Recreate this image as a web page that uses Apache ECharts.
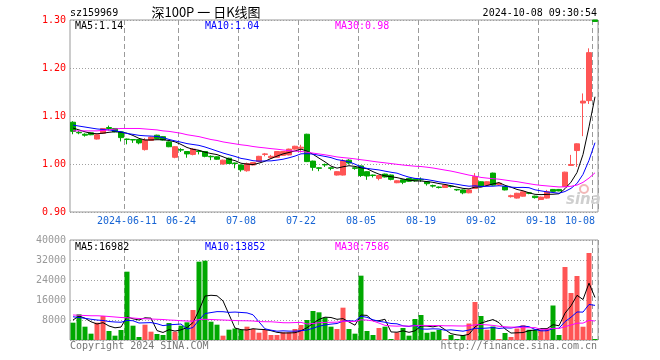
<!DOCTYPE html>
<html><head><meta charset="utf-8">
<script src="https://cdn.jsdelivr.net/npm/echarts@6/dist/echarts.min.js"></script>
<style>html,body{margin:0;padding:0;background:#fff}#c{width:660px;height:360px}</style>
</head><body><div id="c"></div>
<script>
const dates = [
'2024-05-28','2024-05-29','2024-05-30','2024-05-31',
'2024-06-03','2024-06-04','2024-06-05','2024-06-06','2024-06-07',
'2024-06-11','2024-06-12','2024-06-13','2024-06-14',
'2024-06-17','2024-06-18','2024-06-19','2024-06-20','2024-06-21',
'2024-06-24','2024-06-25','2024-06-26','2024-06-27','2024-06-28',
'2024-07-01','2024-07-02','2024-07-03','2024-07-04','2024-07-05',
'2024-07-08','2024-07-09','2024-07-10','2024-07-11','2024-07-12',
'2024-07-15','2024-07-16','2024-07-17','2024-07-18','2024-07-19',
'2024-07-22','2024-07-23','2024-07-24','2024-07-25','2024-07-26',
'2024-07-29','2024-07-30','2024-07-31','2024-08-01','2024-08-02',
'2024-08-05','2024-08-06','2024-08-07','2024-08-08','2024-08-09',
'2024-08-12','2024-08-13','2024-08-14','2024-08-15','2024-08-16',
'2024-08-19','2024-08-20','2024-08-21','2024-08-22','2024-08-23',
'2024-08-26','2024-08-27','2024-08-28','2024-08-29','2024-08-30',
'2024-09-02','2024-09-03','2024-09-04','2024-09-05','2024-09-06',
'2024-09-09','2024-09-10','2024-09-11','2024-09-12','2024-09-13',
'2024-09-18','2024-09-19','2024-09-20',
'2024-09-23','2024-09-24','2024-09-25','2024-09-26','2024-09-27',
'2024-09-30','2024-10-08'];

const openP = [1.087,1.066,1.062,1.065,1.052,1.064,1.076,1.074,1.067,1.052,
1.051,1.051,1.030,1.049,1.060,1.057,1.046,1.014,1.030,1.026,
1.020,1.027,1.026,1.016,1.015,1.000,1.012,1.002,0.998,0.986,
0.998,1.005,1.020,1.013,1.014,1.018,1.019,1.031,1.033,1.062,
1.006,0.992,0.999,0.992,0.977,0.977,1.008,0.992,0.996,0.984,
0.977,0.970,0.979,0.977,0.961,0.967,0.970,0.969,0.968,0.963,
0.955,0.952,0.951,0.954,0.947,0.946,0.940,0.949,0.963,0.956,
0.981,0.957,0.953,0.932,0.929,0.933,0.940,0.933,0.926,0.929,
0.947,0.947,0.953,0.997,1.028,1.127,1.132,1.355];
const highP = [1.089,1.069,1.064,1.066,1.062,1.075,1.080,1.075,1.068,1.053,
1.052,1.052,1.054,1.057,1.061,1.058,1.047,1.037,1.033,1.027,
1.033,1.029,1.027,1.018,1.016,1.009,1.013,1.003,0.999,1.003,
1.004,1.017,1.023,1.019,1.027,1.027,1.032,1.038,1.040,1.063,
1.007,0.993,1.001,0.993,0.985,1.010,1.010,0.993,0.997,0.985,
0.978,0.977,0.980,0.978,0.966,0.968,0.971,0.970,0.972,0.964,
0.957,0.953,0.957,0.956,0.948,0.947,0.947,0.981,0.964,0.964,
0.982,0.962,0.954,0.936,0.940,0.943,0.941,0.934,0.932,0.946,
0.948,0.948,0.984,1.019,1.043,1.147,1.241,1.355];
const lowP = [1.062,1.062,1.057,1.060,1.051,1.063,1.070,1.066,1.047,1.041,
1.044,1.041,1.028,1.048,1.052,1.049,1.035,1.012,1.025,1.013,
1.018,1.020,1.014,1.008,1.009,0.999,1.000,0.991,0.984,0.984,
0.997,1.004,1.016,1.012,1.013,1.017,1.018,1.030,1.024,1.004,
0.986,0.985,0.994,0.987,0.976,0.976,0.999,0.988,0.973,0.967,
0.972,0.966,0.972,0.966,0.960,0.958,0.963,0.963,0.963,0.955,
0.951,0.949,0.950,0.951,0.944,0.937,0.939,0.948,0.952,0.955,
0.955,0.955,0.945,0.930,0.928,0.932,0.937,0.928,0.925,0.928,
0.942,0.943,0.952,0.996,0.994,1.058,1.125,1.297];
const closeP = [1.068,1.065,1.060,1.061,1.061,1.074,1.074,1.067,1.055,1.051,
1.050,1.044,1.050,1.056,1.053,1.050,1.036,1.036,1.029,1.021,
1.031,1.026,1.016,1.015,1.010,1.008,1.001,1.001,0.988,1.001,
1.003,1.016,1.021,1.016,1.026,1.026,1.031,1.037,1.035,1.005,
0.993,0.991,0.998,0.991,0.984,1.007,1.002,0.991,0.976,0.975,
0.976,0.976,0.973,0.968,0.965,0.962,0.964,0.965,0.967,0.959,
0.954,0.951,0.956,0.953,0.946,0.940,0.946,0.974,0.953,0.963,
0.956,0.960,0.946,0.934,0.939,0.942,0.939,0.930,0.931,0.942,
0.943,0.944,0.983,0.999,1.042,1.131,1.232,1.297];
const volume = [6930,10270,5330,2530,6930,9600,3600,1730,4000,27330,
5730,1200,6130,3330,2400,2000,6800,3330,5730,7070,
12000,31330,31730,7330,6130,1730,4130,4600,4130,5330,
4400,2930,4000,2000,2000,3070,3070,4400,6000,8000,
11600,11070,9000,5330,4400,12930,4400,2530,25730,3600,
2000,4800,5330,400,3070,4800,1730,8400,10000,2900,
3300,4060,400,2000,400,2000,6600,15200,9600,4100,
5400,400,2800,1200,4600,5900,4100,4100,4000,4610,
13800,2000,29200,18800,25600,5310,34800,400];

// moving-average values for bars whose window starts before the first shown day
const ma5Head = [1.075,1.071,1.067,1.064];
const ma10Head = [1.081,1.079,1.077,1.075,1.073,1.072,1.071,1.069,1.067];
const ma30Head = [1.069,1.069,1.069,1.069,1.069,1.070,1.071,1.073,1.074,1.074,
1.074,1.074,1.073,1.072,1.071,1.069,1.068,1.066,1.064,1.061,
1.059,1.057,1.054,1.051,1.049,1.046,1.044,1.042,1.040];
const vma5Head = [8000,9600,8700,7300];
const vma10Head = [9300,9000,8700,8300,8000,7800,7400,7200,7100];
const vma30Head = [10000,9900,9800,9700,9700,9600,9400,9200,9000,8900,
8800,8600,8500,8400,8300,8200,8000,7900,7700,7600,
7500,8200,8300,8200,8100,8000,7900,7800,7700];

const labelDates = ['2024-06-11','2024-06-24','2024-07-08','2024-07-22','2024-08-05','2024-08-19','2024-09-02','2024-09-18','2024-10-08'];
const priceTicks = {min:0.9, max:1.3, step:0.1};
const volTicks = {min:0, max:40000, step:8000};

function ma(arr, n, head) {
  return arr.map((v, i) => {
    if (i < n - 1) return head[i];
    let s = 0; for (let j = i - n + 1; j <= i; j++) s += arr[j];
    return s / n;
  });
}
const RED = '#ff5555', GREEN = '#00a800';
const MONO = '"DejaVu Sans Mono", monospace';
const labelSet = new Set(labelDates);

const pMA5 = ma(closeP, 5, ma5Head), pMA10 = ma(closeP, 10, ma10Head), pMA30 = ma(closeP, 30, ma30Head);
const vMA5 = ma(volume, 5, vma5Head), vMA10 = ma(volume, 10, vma10Head), vMA30 = ma(volume, 30, vma30Head);
const last = dates.length - 1;

// candles are clipped at the top of the price panel (as in the reference)
const clampP = v => Math.min(v, priceTicks.max);
const kData = dates.map((d, i) => [clampP(openP[i]), clampP(closeP[i]), clampP(lowP[i]), clampP(highP[i])]);
const kStyled = kData.map((k, i) => ({value: k, itemStyle: closeP[i] < openP[i] ?
  {color: GREEN, color0: GREEN, borderColor: GREEN, borderColor0: GREEN} :
  {color: RED, color0: RED, borderColor: RED, borderColor0: RED}}));
const vData = dates.map((d, i) => ({value: volume[i], itemStyle: {color: closeP[i] >= openP[i] ? RED : GREEN}}));

const L = 70, R = 62;
const chart = echarts.init(document.getElementById('c'), null, {renderer: 'canvas'});
function xAx(gi, showLabel) {
  return {
    type: 'category', gridIndex: gi, data: dates, boundaryGap: true,
    axisLine: {show: false}, axisTick: {show: false},
    axisLabel: {show: showLabel, interval: (i, v) => labelSet.has(v), color: '#1764d4',
      fontFamily: MONO, fontSize: 10, margin: 4, alignMaxLabel: 'right',
      formatter: v => v === labelDates[0] ? v : v.slice(5)},
    splitLine: {show: true, interval: (i, v) => labelSet.has(v), lineStyle: {color: '#9a9a9a', type: [5, 3], width: 1}}
  };
}
function textEl(text, x, y, color, align, font) {
  return {type: 'text', x, y, style: {text, fill: color, font: font || ('10px ' + MONO), align: align || 'left', verticalAlign: 'middle'}, z: 100};
}
chart.setOption({
  animation: false,
  grid: [
    {left: L, right: R, top: 20, height: 192, show: true, borderColor: '#999', borderWidth: 1},
    {left: L, right: R, top: 240, height: 100, show: true, borderColor: '#999', borderWidth: 1}
  ],
  xAxis: [xAx(0, true), xAx(1, false)],
  yAxis: [
    {type: 'value', gridIndex: 0, min: priceTicks.min, max: priceTicks.max, interval: priceTicks.step,
     axisLine: {show: false}, axisTick: {show: false},
     axisLabel: {color: '#ff0000', fontFamily: MONO, fontSize: 10, margin: 4, formatter: v => v.toFixed(2)},
     splitLine: {lineStyle: {color: '#a0a0a0', type: [1, 2]}}},
    {type: 'value', gridIndex: 1, min: volTicks.min, max: volTicks.max, interval: volTicks.step,
     axisLine: {show: false}, axisTick: {show: false},
     axisLabel: {color: '#999', fontFamily: MONO, fontSize: 10, margin: 4, formatter: v => v === 0 ? '' : String(v)},
     splitLine: {lineStyle: {color: '#a0a0a0', type: [1, 2]}}}
  ],
  series: [
    {type: 'candlestick', xAxisIndex: 0, yAxisIndex: 0, data: kStyled, barWidth: 5, clip: true,
     itemStyle: {color: RED, color0: GREEN, borderColor: RED, borderColor0: GREEN, borderWidth: 1}},
    {type: 'line', xAxisIndex: 0, yAxisIndex: 0, data: pMA5, showSymbol: false, lineStyle: {color: '#000', width: 1}, itemStyle: {color: '#000'}, z: 5},
    {type: 'line', xAxisIndex: 0, yAxisIndex: 0, data: pMA10, showSymbol: false, lineStyle: {color: '#0000ff', width: 1}, itemStyle: {color: '#0000ff'}, z: 5},
    {type: 'line', xAxisIndex: 0, yAxisIndex: 0, data: pMA30, showSymbol: false, lineStyle: {color: '#ff00ff', width: 1}, itemStyle: {color: '#ff00ff'}, z: 5},
    {type: 'bar', xAxisIndex: 1, yAxisIndex: 1, data: vData, barWidth: 5},
    {type: 'line', xAxisIndex: 1, yAxisIndex: 1, data: vMA5, showSymbol: false, lineStyle: {color: '#000', width: 1}, itemStyle: {color: '#000'}, z: 5},
    {type: 'line', xAxisIndex: 1, yAxisIndex: 1, data: vMA10, showSymbol: false, lineStyle: {color: '#0000ff', width: 1}, itemStyle: {color: '#0000ff'}, z: 5},
    {type: 'line', xAxisIndex: 1, yAxisIndex: 1, data: vMA30, showSymbol: false, lineStyle: {color: '#ff00ff', width: 1}, itemStyle: {color: '#ff00ff'}, z: 5}
  ],
  graphic: [
    textEl('sz159969', 70, 13, '#000'),
    textEl('深100P 一 日K线图', 206, 12, '#000', 'center', '13px "Noto Sans CJK SC", sans-serif'),
    textEl('2024-10-08 09:30:54', 597, 13, '#000', 'right'),
    textEl('MA5:' + pMA5[last].toFixed(2), 75, 26, '#000'),
    textEl('MA10:' + pMA10[last].toFixed(2), 205, 26, '#0000ff'),
    textEl('MA30:' + pMA30[last].toFixed(2), 335, 26, '#ff00ff'),
    textEl('MA5:' + Math.round(vMA5[last]), 75, 247, '#000'),
    textEl('MA10:' + Math.round(vMA10[last]), 205, 247, '#0000ff'),
    textEl('MA30:' + Math.round(vMA30[last]), 335, 247, '#ff00ff'),
    textEl('Copyright 2024 SINA.COM', 70, 346, '#777'),
    textEl('http://finance.sina.com.cn', 597, 346, '#777', 'right'),
    {type: 'circle', shape: {cx: 584, cy: 189, r: 4}, style: {fill: 'none', stroke: '#f2b8b8', lineWidth: 2}, z: 1},
    textEl('sina', 566, 200, '#cfcfcf', 'left', 'italic bold 15px "DejaVu Sans", sans-serif')
  ]
});
</script></body></html>
